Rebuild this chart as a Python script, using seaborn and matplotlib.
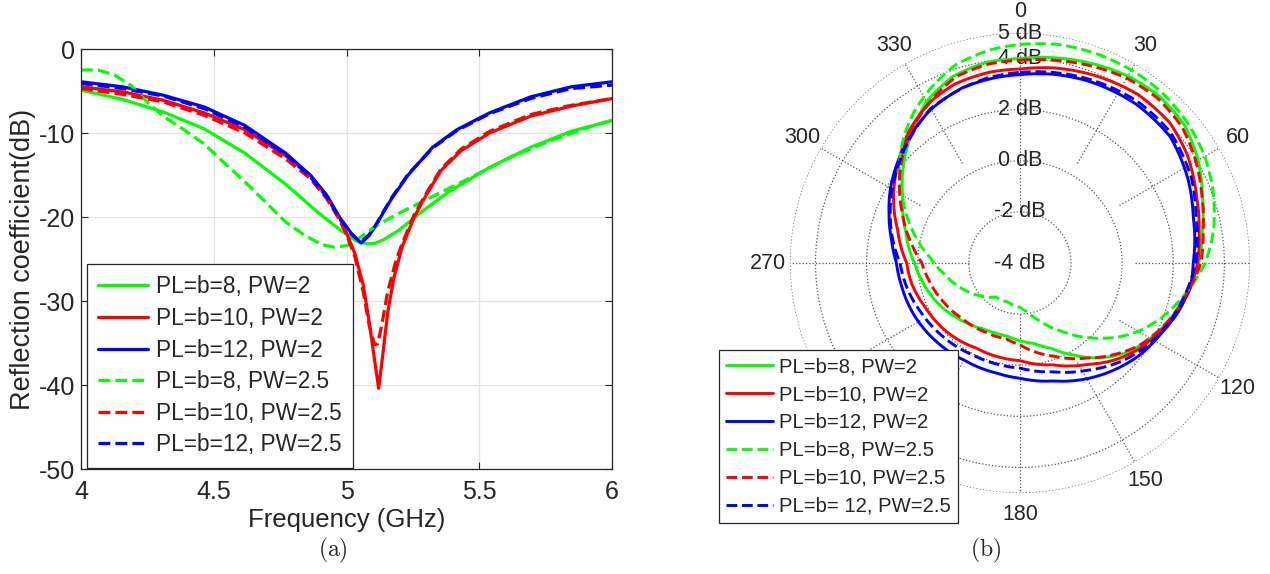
import numpy as np
import matplotlib
matplotlib.use('Agg')
import matplotlib.pyplot as plt
import seaborn as sns

# ---------------- (a) reflection coefficient ----------------
freq_b8_pw2 = [4.0, 4.157, 4.31, 4.464, 4.617, 4.771, 4.894, 4.95, 5.0, 5.04, 5.078, 5.11, 5.14,
               5.201, 5.278, 5.385, 5.539, 5.693, 5.846, 6.0]
s11_b8_pw2 = [-4.9, -6.0, -7.5, -9.5, -12.4, -16.1, -19.5, -20.9, -22.1, -22.9, -23.2, -23.1, -22.7,
              -21.5, -19.5, -17.0, -14.1, -11.7, -9.8, -8.5]

freq_b10_pw2 = [4.0, 4.157, 4.31, 4.464, 4.617, 4.771, 4.863, 4.925, 4.971, 5.0, 5.032, 5.063, 5.086,
                5.106, 5.121, 5.137, 5.155, 5.178, 5.209, 5.255, 5.3, 5.355, 5.432, 5.539, 5.693,
                5.846, 6.0]
s11_b10_pw2 = [-4.5, -5.1, -6.1, -7.6, -9.6, -12.7, -15.0, -17.4, -19.9, -21.9, -24.4, -28.1, -32.6,
               -37.1, -40.4, -36.3, -31.4, -27.3, -23.6, -20.0, -17.4, -14.5, -12.1, -10.0, -8.0,
               -6.8, -5.9]

freq_b12_pw2 = [4.0, 4.157, 4.31, 4.464, 4.617, 4.771, 4.863, 4.925, 4.971, 5.017, 5.055, 5.085,
                5.109, 5.14, 5.17, 5.232, 5.324, 5.416, 5.539, 5.693, 5.846, 6.0]
s11_b12_pw2 = [-3.9, -4.5, -5.5, -6.9, -9.1, -12.4, -15.0, -17.4, -19.9, -21.9, -23.1, -22.2,
               -21.1, -19.4, -17.8, -15.0, -11.7, -9.6, -7.6, -5.7, -4.5, -3.9]

freq_b8_pw25 = [4.0, 4.065, 4.126, 4.187, 4.249, 4.31, 4.387, 4.464, 4.541, 4.617, 4.694, 4.771,
                4.848, 4.909, 4.955, 5.002, 5.048, 5.109, 5.201, 5.309, 5.462, 5.616, 5.77, 5.923, 6.0]
s11_b8_pw25 = [-2.5, -2.5, -3.1, -4.3, -6.3, -8.0, -9.6, -11.3, -13.6, -15.8, -18.2, -20.6,
               -22.3, -23.3, -23.6, -23.4, -22.5, -21.1, -19.5, -17.8, -15.4, -12.9, -10.9, -9.2, -8.5]

freq_b10_pw25 = [4.0, 4.157, 4.31, 4.464, 4.617, 4.771, 4.863, 4.925, 4.971, 5.0, 5.032, 5.063,
                 5.086, 5.106, 5.117, 5.132, 5.155, 5.186, 5.209, 5.255, 5.3, 5.355, 5.432, 5.539,
                 5.693, 5.846, 6.0]
s11_b10_pw25 = [-4.7, -5.4, -6.3, -7.9, -10.0, -13.1, -15.4, -17.8, -20.2, -22.1, -24.8, -28.9,
                -33.0, -35.2, -35.1, -33.0, -28.9, -25.2, -23.2, -19.7, -17.2, -14.3, -11.9, -9.8,
                -7.8, -6.7, -5.9]

freq_b12_pw25 = [4.0, 4.157, 4.31, 4.464, 4.617, 4.771, 4.863, 4.925, 4.971, 5.017, 5.052, 5.085,
                 5.109, 5.14, 5.17, 5.232, 5.324, 5.416, 5.539, 5.693, 5.846, 6.0]
s11_b12_pw25 = [-4.1, -4.7, -5.6, -7.1, -9.3, -12.6, -15.2, -17.6, -20.0, -22.0, -23.0, -22.1,
                -21.0, -19.3, -17.7, -14.9, -11.8, -9.7, -7.7, -5.9, -4.7, -4.3]

# ---------------- (b) radiation pattern (angle in deg, gain in dB) ----------------
ang_b8_pw2 = [0, 20, 30, 40, 50, 60, 70, 80, 90, 100, 110, 120, 130, 140, 150, 160, 170, 180,
              190, 200, 210, 220, 230, 240, 250, 260, 270, 285, 300, 310, 320, 330, 340, 350, 360]
gain_b8_pw2 = [4.0, 4.3, 4.45, 4.5, 4.4, 4.05, 3.6, 3.25, 3.0, 2.6, 2.3, 1.9, 1.45, 0.85, 0.15,
               -0.45, -0.8, -0.96, -1.1, -1.1, -1.04, -0.88, -0.72, -0.5, -0.3, -0.1, 0.13, 0.62,
               1.3, 1.95, 2.6, 3.3, 3.75, 3.95, 4.0]

ang_b10_pw2 = [0, 10, 20, 35, 47, 57, 69, 80, 90, 100, 115, 126, 136, 146, 162, 180, 190, 207,
               228, 245, 259, 270, 285, 298, 310, 320, 331, 340, 351, 360]
gain_b10_pw2 = [3.59, 3.75, 3.88, 4.05, 4.03, 3.8, 3.4, 3.12, 2.95, 2.7, 2.13, 1.74, 1.29, 0.78,
                0.19, -0.18, -0.22, -0.26, -0.06, 0.09, 0.31, 0.43, 0.95, 1.6, 2.19, 2.75, 3.22,
                3.45, 3.56, 3.59]

ang_b12_pw2 = [0, 10, 20, 36, 50, 63.5, 75, 90, 97, 107, 116, 128, 138.5, 150, 164, 180, 192,
               209, 227, 243, 259, 270, 280, 290, 300, 310, 320, 330, 342, 353, 360]
gain_b12_pw2 = [3.37, 3.5, 3.6, 3.7, 3.68, 3.35, 3.02, 2.78, 2.75, 2.49, 2.19, 1.9, 1.58, 1.23,
                0.8, 0.51, 0.4, 0.38, 0.49, 0.61, 0.72, 0.83, 1.1, 1.45, 1.85, 2.22, 2.6, 2.95,
                3.22, 3.32, 3.37]

ang_b8_pw25 = [0, 10, 20, 30, 40, 50, 60, 70, 80, 90, 102, 111, 119, 126, 138, 149, 161, 171,
               180, 198, 215, 230, 247, 262, 274, 287, 299, 308, 317, 325, 333, 342, 352, 360]
gain_b8_pw25 = [4.55, 4.68, 4.72, 4.72, 4.68, 4.55, 4.35, 4.05, 3.7, 3.25, 2.49, 1.95, 1.42, 0.89,
                -0.08, -0.9, -1.6, -2.05, -2.27, -2.4, -2.37, -2.0, -1.5, -1.0, -0.45, 0.4,
                1.25, 2.0, 2.68, 3.22, 3.68, 4.15, 4.42, 4.55]

ang_b10_pw25 = [0, 10, 20, 30, 40, 50, 60, 70, 80, 90, 100, 105.6, 114.5, 125, 134, 144.6, 160,
                180, 190, 206, 226, 244, 259.5, 270, 280, 293, 305, 314.5, 323.5, 333.4, 341,
                351, 360]
gain_b10_pw25 = [3.93, 4.05, 4.2, 4.35, 4.4, 4.28, 3.95, 3.58, 3.28, 3.08, 2.65, 2.46, 2.1, 1.66,
                 1.15, 0.56, -0.12, -0.8, -0.98, -0.98, -0.87, -0.63, -0.37, -0.16, 0.3, 1.0,
                 1.75, 2.35, 2.85, 3.35, 3.7, 3.88, 3.93]

ang_b12_pw25 = [0, 20, 36, 49, 64, 75, 90, 103, 114, 124, 134, 148, 163, 180, 191, 207, 227, 243,
                258, 270, 290, 310, 330, 350, 360]
gain_b12_pw25 = [3.46, 3.68, 3.82, 3.8, 3.48, 3.13, 2.88, 2.52, 2.22, 1.91, 1.53, 0.95, 0.45,
                 0.11, 0.06, 0.04, 0.17, 0.32, 0.53, 0.69, 1.4, 2.15, 2.98, 3.35, 3.46]

labels_a = ['PL=b=8, PW=2', 'PL=b=10, PW=2', 'PL=b=12, PW=2',
            'PL=b=8, PW=2.5', 'PL=b=10, PW=2.5', 'PL=b=12, PW=2.5']
labels_b = ['PL=b=8, PW=2', 'PL=b=10, PW=2', 'PL=b=12, PW=2',
            'PL=b=8, PW=2.5', 'PL=b=10, PW=2.5', 'PL=b= 12, PW=2.5']

colors = ['#00ff00', '#ff0000', '#0000ff'] * 2
styles = ['-', '-', '-', '--', '--', '--']

sns.set_style('ticks')
plt.rcParams['font.family'] = ['Liberation Sans', 'DejaVu Sans']
plt.rcParams['axes.unicode_minus'] = False
plt.rcParams['mathtext.fontset'] = 'cm'

fig = plt.figure(figsize=(12.7, 5.74), dpi=100)

# ---------------- (a) ----------------
ax = fig.add_axes([0.0638, 0.1829, 0.4181, 0.7317])
series_a = [(freq_b8_pw2, s11_b8_pw2), (freq_b10_pw2, s11_b10_pw2), (freq_b12_pw2, s11_b12_pw2),
            (freq_b8_pw25, s11_b8_pw25), (freq_b10_pw25, s11_b10_pw25), (freq_b12_pw25, s11_b12_pw25)]
for (f, s), c, ls, lab in zip(series_a, colors, styles, labels_a):
    sns.lineplot(x=f, y=s, ax=ax, color=c, linestyle=ls, linewidth=2.3, label=lab)

ax.set_xlim(4, 6)
ax.set_ylim(-50, 0)
ax.set_xticks([4, 4.5, 5, 5.5, 6])
ax.set_xticklabels(['4', '4.5', '5', '5.5', '6'])
ax.set_yticks([0, -10, -20, -30, -40, -50])
ax.grid(True, color='#e3e3e3', linewidth=0.9)
ax.set_axisbelow(True)
ax.tick_params(direction='in', length=5, width=0.8, top=True, right=True,
               labelsize=18, color='#262626')
ax.tick_params(axis='x', pad=8)
ax.tick_params(axis='y', pad=4)
for sp in ax.spines.values():
    sp.set_visible(True)
    sp.set_color('#262626')
    sp.set_linewidth(0.9)
ax.set_xlabel('Frequency (GHz)', fontsize=18.5, labelpad=3)
ax.set_ylabel('Reflection coefficient(dB)', fontsize=19.5)
ax.yaxis.set_label_coords(-0.085, 0.5)

leg = ax.legend(loc='upper left', bbox_to_anchor=(0.0685, 0.5401), bbox_transform=fig.transFigure,
                fontsize=16.3, frameon=True, fancybox=False, framealpha=1, edgecolor='#262626',
                borderaxespad=0, borderpad=0.5, labelspacing=0.38, handlelength=2.2,
                handletextpad=0.35)
leg.get_frame().set_linewidth(0.9)

# ---------------- (b) ----------------
pax = fig.add_axes([0.6220, 0.1411, 0.3622, 0.8014], projection='polar')
pax.set_theta_zero_location('N')
pax.set_theta_direction(-1)

# dotted spokes
for a in range(0, 360, 30):
    r0 = -2 if a in (0, 180, 270) else 0.5
    pax.plot([np.deg2rad(a)] * 2, [r0, 5], linestyle=':', color='#555555', linewidth=0.9, zorder=1)

series_b = [(ang_b8_pw2, gain_b8_pw2), (ang_b10_pw2, gain_b10_pw2), (ang_b12_pw2, gain_b12_pw2),
            (ang_b8_pw25, gain_b8_pw25), (ang_b10_pw25, gain_b10_pw25), (ang_b12_pw25, gain_b12_pw25)]
for (a, g), c, ls, lab in zip(series_b, colors, styles, labels_b):
    sns.lineplot(x=np.deg2rad(a), y=g, ax=pax, color=c, linestyle=ls, linewidth=2.1,
                 label=lab, sort=False, zorder=3)
    # draw each segment as a polar arc instead of a straight chord
    pax.lines[-1].get_path()._interpolation_steps = 40

pax.set_ylim(-4, 5)
pax.set_rticks([-2, 0, 2, 4, 5])
pax.set_yticklabels([])
pax.set_xlabel('')
pax.set_ylabel('')
pax.yaxis.grid(True, linestyle=':', color='#555555', linewidth=0.9)
pax.xaxis.grid(False)
pax.spines['polar'].set_visible(False)
theta_lbls = ['0', '30', '60', '', '120', '150', '180', '', '', '270', '300', '330']
pax.set_thetagrids(range(0, 360, 30), theta_lbls, fontsize=15.5)
pax.tick_params(axis='x', pad=5)
for r in [5, 4, 2, 0, -2, -4]:
    pax.text(0, r, f'{r} dB', ha='center', va='center', fontsize=15.5, zorder=2)

leg2 = pax.legend(loc='upper left', bbox_to_anchor=(0.5661, 0.3902), bbox_transform=fig.transFigure,
                  fontsize=14.6, frameon=True, fancybox=False, framealpha=1, edgecolor='#262626',
                  borderaxespad=0, borderpad=0.35, labelspacing=0.44, handlelength=2.3,
                  handletextpad=0.3)
leg2.get_frame().set_linewidth(0.9)
leg2.set_zorder(10)

fig.text(333 / 1270, 1 - 550 / 574, r'$\mathrm{(a)}$', ha='center', va='center', fontsize=17)
fig.text(986 / 1270, 1 - 550 / 574, r'$\mathrm{(b)}$', ha='center', va='center', fontsize=17)

fig.savefig('out.png', dpi=100)
